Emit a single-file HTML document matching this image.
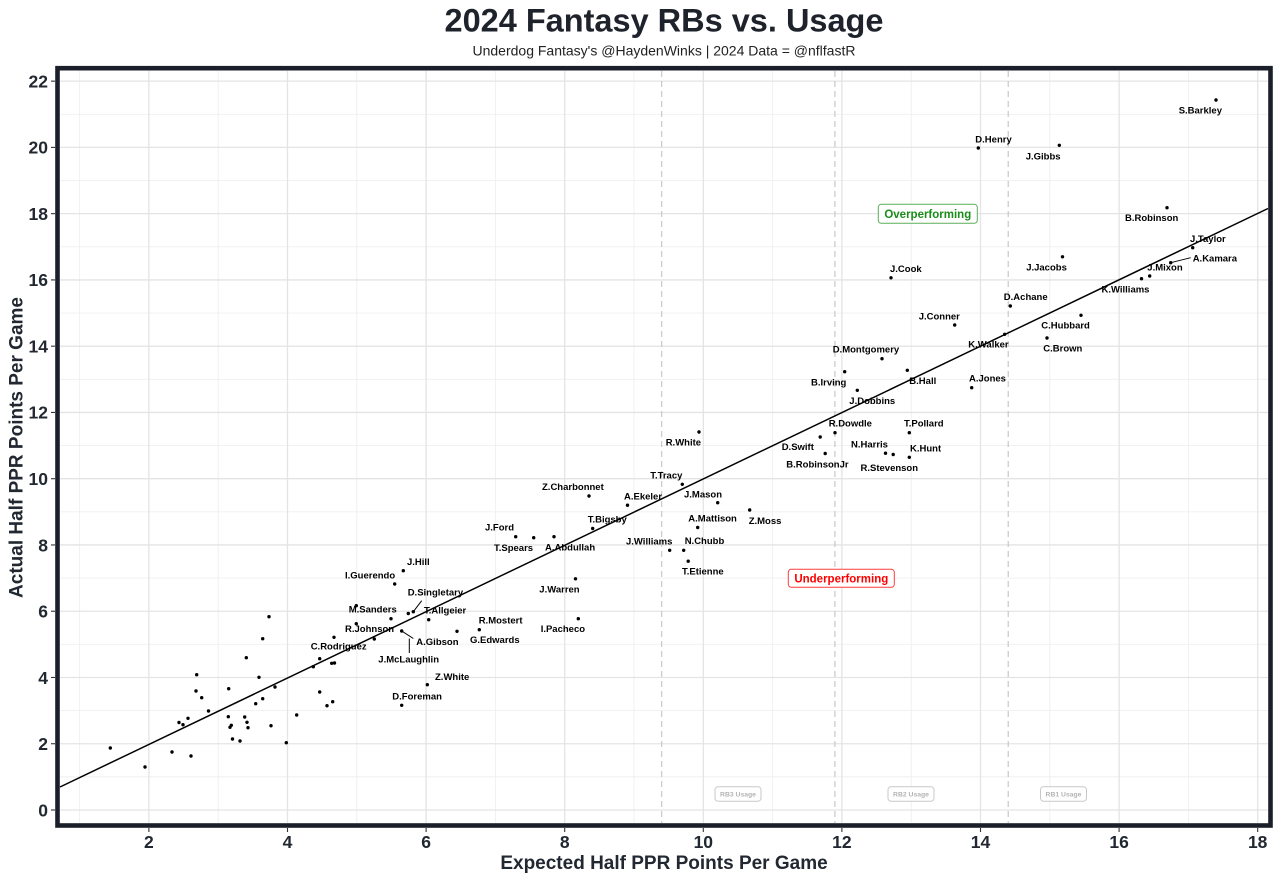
<!DOCTYPE html>
<html><head><meta charset="utf-8"><style>
html,body{margin:0;padding:0;background:#fff;}
svg{display:block;}
text{font-family:"Liberation Sans",Arial,sans-serif;}
.lb{font-size:9.5px;font-weight:bold;fill:#000;}
.tk{font-size:17.5px;font-weight:bold;fill:#222831;}
</style></head><body>
<svg width="1279" height="881" viewBox="0 0 1279 881" xmlns="http://www.w3.org/2000/svg">
<rect x="0" y="0" width="1279" height="881" fill="#fff"/>
<text x="664" y="31.7" text-anchor="middle" font-size="32.5" font-weight="bold" fill="#1e222b">2024 Fantasy RBs vs. Usage</text>
<text x="664" y="55.5" text-anchor="middle" font-size="14" fill="#222">Underdog Fantasy's @HaydenWinks | 2024 Data = @nflfastR</text>

<!-- minor grid -->
<g stroke="#efefef" stroke-width="0.9">
<line x1="79.6" y1="71" x2="79.6" y2="823"/><line x1="218.2" y1="71" x2="218.2" y2="823"/><line x1="356.8" y1="71" x2="356.8" y2="823"/><line x1="495.4" y1="71" x2="495.4" y2="823"/><line x1="634" y1="71" x2="634" y2="823"/><line x1="772.6" y1="71" x2="772.6" y2="823"/><line x1="911.2" y1="71" x2="911.2" y2="823"/><line x1="1049.8" y1="71" x2="1049.8" y2="823"/><line x1="1188.4" y1="71" x2="1188.4" y2="823"/>
<line x1="60" y1="776.87" x2="1268" y2="776.87"/><line x1="60" y1="710.61" x2="1268" y2="710.61"/><line x1="60" y1="644.35" x2="1268" y2="644.35"/><line x1="60" y1="578.09" x2="1268" y2="578.09"/><line x1="60" y1="511.83" x2="1268" y2="511.83"/><line x1="60" y1="445.57" x2="1268" y2="445.57"/><line x1="60" y1="379.31" x2="1268" y2="379.31"/><line x1="60" y1="313.05" x2="1268" y2="313.05"/><line x1="60" y1="246.79" x2="1268" y2="246.79"/><line x1="60" y1="180.53" x2="1268" y2="180.53"/><line x1="60" y1="114.27" x2="1268" y2="114.27"/>
</g>
<!-- major grid -->
<g stroke="#e4e4e4" stroke-width="1.3">
<line x1="148.9" y1="71" x2="148.9" y2="823"/><line x1="287.5" y1="71" x2="287.5" y2="823"/><line x1="426.1" y1="71" x2="426.1" y2="823"/><line x1="564.7" y1="71" x2="564.7" y2="823"/><line x1="703.3" y1="71" x2="703.3" y2="823"/><line x1="841.9" y1="71" x2="841.9" y2="823"/><line x1="980.5" y1="71" x2="980.5" y2="823"/><line x1="1119.1" y1="71" x2="1119.1" y2="823"/><line x1="1257.7" y1="71" x2="1257.7" y2="823"/>
<line x1="60" y1="810" x2="1268" y2="810"/><line x1="60" y1="743.74" x2="1268" y2="743.74"/><line x1="60" y1="677.48" x2="1268" y2="677.48"/><line x1="60" y1="611.22" x2="1268" y2="611.22"/><line x1="60" y1="544.96" x2="1268" y2="544.96"/><line x1="60" y1="478.7" x2="1268" y2="478.7"/><line x1="60" y1="412.44" x2="1268" y2="412.44"/><line x1="60" y1="346.18" x2="1268" y2="346.18"/><line x1="60" y1="279.92" x2="1268" y2="279.92"/><line x1="60" y1="213.66" x2="1268" y2="213.66"/><line x1="60" y1="147.4" x2="1268" y2="147.4"/><line x1="60" y1="81.14" x2="1268" y2="81.14"/>
</g>

<!-- dashed usage lines -->
<g stroke="#c4c4c4" stroke-width="1.1" stroke-dasharray="6,4">
<line x1="661.7" y1="71" x2="661.7" y2="823"/>
<line x1="834.9" y1="71" x2="834.9" y2="823"/>
<line x1="1008.2" y1="71" x2="1008.2" y2="823"/>
</g>

<!-- usage boxes -->
<g>
<rect x="715" y="786.8" width="46" height="14.4" rx="3" fill="#fff" stroke="#c8c8c8" stroke-width="1"/>
<text x="738" y="796.4" text-anchor="middle" font-size="6.8" font-weight="bold" fill="#b3b3b3">RB3 Usage</text>
<rect x="888" y="786.8" width="46" height="14.4" rx="3" fill="#fff" stroke="#c8c8c8" stroke-width="1"/>
<text x="911" y="796.4" text-anchor="middle" font-size="6.8" font-weight="bold" fill="#b3b3b3">RB2 Usage</text>
<rect x="1040.5" y="786.8" width="46" height="14.4" rx="3" fill="#fff" stroke="#c8c8c8" stroke-width="1"/>
<text x="1063.5" y="796.4" text-anchor="middle" font-size="6.8" font-weight="bold" fill="#b3b3b3">RB1 Usage</text>
</g>

<!-- regression line -->
<line x1="60" y1="787" x2="1268" y2="208.5" stroke="#000" stroke-width="1.5"/>

<!-- segments -->
<g stroke="#000" stroke-width="1">
<line x1="413.3" y1="611.7" x2="421.7" y2="600.7"/>
<line x1="401.7" y1="631" x2="413.3" y2="638.5"/>
<line x1="409.3" y1="638.5" x2="409.3" y2="653"/>
<line x1="1170.7" y1="262.7" x2="1190.7" y2="257.7"/>
</g>

<!-- points -->
<g fill="#000">
<circle cx="110.3" cy="748" r="1.7"/><circle cx="145" cy="767" r="1.7"/><circle cx="172" cy="752" r="1.7"/><circle cx="191" cy="756" r="1.7"/>
<circle cx="179" cy="722.5" r="1.7"/><circle cx="183" cy="724.7" r="1.7"/><circle cx="188" cy="718.3" r="1.7"/><circle cx="196" cy="691" r="1.7"/>
<circle cx="201.7" cy="697.7" r="1.7"/><circle cx="208.5" cy="711" r="1.7"/><circle cx="196.7" cy="674.7" r="1.7"/><circle cx="228.7" cy="688.7" r="1.7"/>
<circle cx="228.3" cy="716.7" r="1.7"/><circle cx="230" cy="727.3" r="1.7"/><circle cx="231.3" cy="725.3" r="1.7"/><circle cx="232.5" cy="739" r="1.7"/>
<circle cx="240" cy="741" r="1.7"/><circle cx="244.7" cy="717" r="1.7"/><circle cx="247" cy="722.3" r="1.7"/><circle cx="248" cy="727.7" r="1.7"/>
<circle cx="246.3" cy="657.7" r="1.7"/><circle cx="259" cy="677.3" r="1.7"/><circle cx="255.7" cy="703.7" r="1.7"/><circle cx="262.7" cy="698.7" r="1.7"/>
<circle cx="271" cy="725.7" r="1.7"/><circle cx="275" cy="687" r="1.7"/><circle cx="262.7" cy="638.7" r="1.7"/><circle cx="269" cy="616.7" r="1.7"/>
<circle cx="286.3" cy="742.7" r="1.7"/><circle cx="296.7" cy="715" r="1.7"/><circle cx="319.7" cy="692" r="1.7"/><circle cx="327" cy="705.7" r="1.7"/>
<circle cx="332.7" cy="701.7" r="1.7"/><circle cx="313.3" cy="666.7" r="1.7"/><circle cx="319.7" cy="658.7" r="1.7"/><circle cx="331.7" cy="663.3" r="1.7"/>
<circle cx="334.5" cy="663" r="1.7"/><circle cx="334" cy="637.3" r="1.7"/><circle cx="356.3" cy="605.7" r="1.7"/><circle cx="356.3" cy="623.7" r="1.7"/>
<circle cx="374.3" cy="639" r="1.7"/><circle cx="391" cy="618.7" r="1.7"/><circle cx="394.7" cy="584" r="1.7"/><circle cx="403.3" cy="570.7" r="1.7"/>
<circle cx="408.3" cy="613.5" r="1.7"/><circle cx="413.3" cy="611.7" r="1.7"/><circle cx="428.7" cy="619.7" r="1.7"/><circle cx="401.7" cy="631" r="1.7"/>
<circle cx="427.3" cy="684.7" r="1.7"/><circle cx="401.7" cy="705.3" r="1.7"/><circle cx="457" cy="631.3" r="1.7"/><circle cx="479.3" cy="629.7" r="1.7"/>
<circle cx="515.7" cy="536.7" r="1.7"/><circle cx="533.7" cy="537.7" r="1.7"/><circle cx="554" cy="536.7" r="1.7"/><circle cx="589" cy="496" r="1.7"/>
<circle cx="627.5" cy="505.2" r="1.7"/><circle cx="592.7" cy="528.5" r="1.7"/><circle cx="575.5" cy="578.8" r="1.7"/><circle cx="578.3" cy="618.7" r="1.7"/>
<circle cx="682.3" cy="484.3" r="1.7"/><circle cx="717.7" cy="502.7" r="1.7"/><circle cx="749.7" cy="510" r="1.7"/><circle cx="697.7" cy="527.5" r="1.7"/>
<circle cx="669.7" cy="550.3" r="1.7"/><circle cx="683.7" cy="550.3" r="1.7"/><circle cx="688.2" cy="561.2" r="1.7"/><circle cx="699" cy="432" r="1.7"/>
<circle cx="835" cy="432.7" r="1.7"/><circle cx="820.2" cy="437" r="1.7"/><circle cx="825.2" cy="453.5" r="1.7"/><circle cx="885.5" cy="453.2" r="1.7"/>
<circle cx="893.2" cy="454.5" r="1.7"/><circle cx="909.3" cy="432.7" r="1.7"/><circle cx="909.3" cy="457.3" r="1.7"/><circle cx="857.3" cy="390.3" r="1.7"/>
<circle cx="844.7" cy="371.7" r="1.7"/><circle cx="907.3" cy="370.3" r="1.7"/><circle cx="882" cy="358.7" r="1.7"/><circle cx="971.7" cy="387.7" r="1.7"/>
<circle cx="954.7" cy="325" r="1.7"/><circle cx="1004.7" cy="334.3" r="1.7"/><circle cx="1047" cy="338" r="1.7"/><circle cx="1081" cy="315.3" r="1.7"/>
<circle cx="1010.3" cy="306" r="1.7"/><circle cx="891" cy="277.8" r="1.7"/><circle cx="1062.5" cy="256.8" r="1.7"/><circle cx="1141.5" cy="278.7" r="1.7"/>
<circle cx="1149.7" cy="276" r="1.7"/><circle cx="1170.7" cy="262.7" r="1.7"/><circle cx="1192.7" cy="247.7" r="1.7"/><circle cx="1167" cy="207.7" r="1.7"/>
<circle cx="978.3" cy="148" r="1.7"/><circle cx="1059.3" cy="145.3" r="1.7"/><circle cx="1216" cy="100" r="1.7"/>
</g>

<!-- labels -->
<g class="lb">
<text x="1178.7" y="113.7">S.Barkley</text>
<text x="975.3" y="142.4">D.Henry</text>
<text x="1025.7" y="159.4">J.Gibbs</text>
<text x="1125" y="221.1">B.Robinson</text>
<text x="1190" y="242.1">J.Taylor</text>
<text x="1192.7" y="261.7">A.Kamara</text>
<text x="1147.3" y="270.7">J.Mixon</text>
<text x="1101.5" y="292.4">K.Williams</text>
<text x="1026.2" y="270.4">J.Jacobs</text>
<text x="890" y="272.2">J.Cook</text>
<text x="1003.8" y="300.1">D.Achane</text>
<text x="918.7" y="319.4">J.Conner</text>
<text x="1041.3" y="328.7">C.Hubbard</text>
<text x="968.3" y="347.7">K.Walker</text>
<text x="1043.3" y="351.7">C.Brown</text>
<text x="832.7" y="352.7">D.Montgomery</text>
<text x="811" y="385.7">B.Irving</text>
<text x="909.3" y="384.1">B.Hall</text>
<text x="969" y="381.7">A.Jones</text>
<text x="849.3" y="404.1">J.Dobbins</text>
<text x="828.7" y="426.7">R.Dowdle</text>
<text x="904" y="426.7">T.Pollard</text>
<text x="781.7" y="450.1">D.Swift</text>
<text x="851" y="447.4">N.Harris</text>
<text x="910" y="451.4">K.Hunt</text>
<text x="786.3" y="467.4">B.RobinsonJr</text>
<text x="860.5" y="471.1">R.Stevenson</text>
<text x="665.7" y="445.7">R.White</text>
<text x="650.2" y="478.6">T.Tracy</text>
<text x="684" y="497.7">J.Mason</text>
<text x="542" y="490.1">Z.Charbonnet</text>
<text x="624" y="499.4">A.Ekeler</text>
<text x="748.7" y="524.1">Z.Moss</text>
<text x="688.3" y="521.7">A.Mattison</text>
<text x="587.7" y="522.7">T.Bigsby</text>
<text x="485" y="530.7">J.Ford</text>
<text x="494" y="551.1">T.Spears</text>
<text x="545" y="550.7">A.Abdullah</text>
<text x="626" y="544.4">J.Williams</text>
<text x="684.7" y="544.1">N.Chubb</text>
<text x="682" y="574.6">T.Etienne</text>
<text x="539.3" y="592.6">J.Warren</text>
<text x="540.7" y="632.1">I.Pacheco</text>
<text x="478.7" y="623.7">R.Mostert</text>
<text x="470" y="643.1">G.Edwards</text>
<text x="407" y="564.9">J.Hill</text>
<text x="345" y="578.4">I.Guerendo</text>
<text x="407.7" y="595.7">D.Singletary</text>
<text x="348.7" y="612.4">M.Sanders</text>
<text x="424" y="613.7">T.Allgeier</text>
<text x="345" y="632.1">R.Johnson</text>
<text x="416.3" y="645.1">A.Gibson</text>
<text x="310.7" y="649.4">C.Rodriguez</text>
<text x="378.3" y="662.4">J.McLaughlin</text>
<text x="435" y="679.9">Z.White</text>
<text x="392.3" y="699.6">D.Foreman</text>
</g>

<!-- annotation boxes -->
<rect x="878.3" y="204.3" width="99" height="19" rx="3" fill="#fff" stroke="#5aad5a" stroke-width="1"/>
<text x="927.8" y="217.9" text-anchor="middle" font-size="11.5" font-weight="bold" fill="#1a8c1a">Overperforming</text>
<rect x="788.3" y="569.3" width="106" height="18" rx="3" fill="#fff" stroke="#ff3b3b" stroke-width="1"/>
<text x="841.3" y="582.4" text-anchor="middle" font-size="11.5" font-weight="bold" fill="#f00">Underperforming</text>

<!-- panel border -->
<rect x="57.5" y="68.2" width="1213" height="757.3" fill="none" stroke="#1b1f2a" stroke-width="4.6"/>

<!-- ticks -->
<g stroke="#333" stroke-width="1.1">
<line x1="148.9" y1="828" x2="148.9" y2="832"/><line x1="287.5" y1="828" x2="287.5" y2="832"/><line x1="426.1" y1="828" x2="426.1" y2="832"/><line x1="564.7" y1="828" x2="564.7" y2="832"/><line x1="703.3" y1="828" x2="703.3" y2="832"/><line x1="841.9" y1="828" x2="841.9" y2="832"/><line x1="980.5" y1="828" x2="980.5" y2="832"/><line x1="1119.1" y1="828" x2="1119.1" y2="832"/><line x1="1257.7" y1="828" x2="1257.7" y2="832"/>
<line x1="51" y1="810" x2="55" y2="810"/><line x1="51" y1="743.74" x2="55" y2="743.74"/><line x1="51" y1="677.48" x2="55" y2="677.48"/><line x1="51" y1="611.22" x2="55" y2="611.22"/><line x1="51" y1="544.96" x2="55" y2="544.96"/><line x1="51" y1="478.7" x2="55" y2="478.7"/><line x1="51" y1="412.44" x2="55" y2="412.44"/><line x1="51" y1="346.18" x2="55" y2="346.18"/><line x1="51" y1="279.92" x2="55" y2="279.92"/><line x1="51" y1="213.66" x2="55" y2="213.66"/><line x1="51" y1="147.4" x2="55" y2="147.4"/><line x1="51" y1="81.14" x2="55" y2="81.14"/>
</g>

<!-- tick labels -->
<g class="tk" text-anchor="middle">
<text x="148.9" y="848">2</text><text x="287.5" y="848">4</text><text x="426.1" y="848">6</text><text x="564.7" y="848">8</text><text x="703.3" y="848">10</text><text x="841.9" y="848">12</text><text x="980.5" y="848">14</text><text x="1119.1" y="848">16</text><text x="1257.7" y="848">18</text>
</g>
<g class="tk" text-anchor="end">
<text x="48" y="816.3">0</text><text x="48" y="750">2</text><text x="48" y="683.8">4</text><text x="48" y="617.5">6</text><text x="48" y="551.3">8</text><text x="48" y="485">10</text><text x="48" y="418.7">12</text><text x="48" y="352.5">14</text><text x="48" y="286.2">16</text><text x="48" y="220">18</text><text x="48" y="153.7">20</text><text x="48" y="87.4">22</text>
</g>

<!-- axis titles -->
<text x="664" y="869" text-anchor="middle" font-size="19" font-weight="bold" fill="#222831">Expected Half PPR Points Per Game</text>
<text transform="translate(22.3,447.5) rotate(-90)" text-anchor="middle" font-size="19" font-weight="bold" fill="#222831">Actual Half PPR Points Per Game</text>
</svg>
</body></html>
